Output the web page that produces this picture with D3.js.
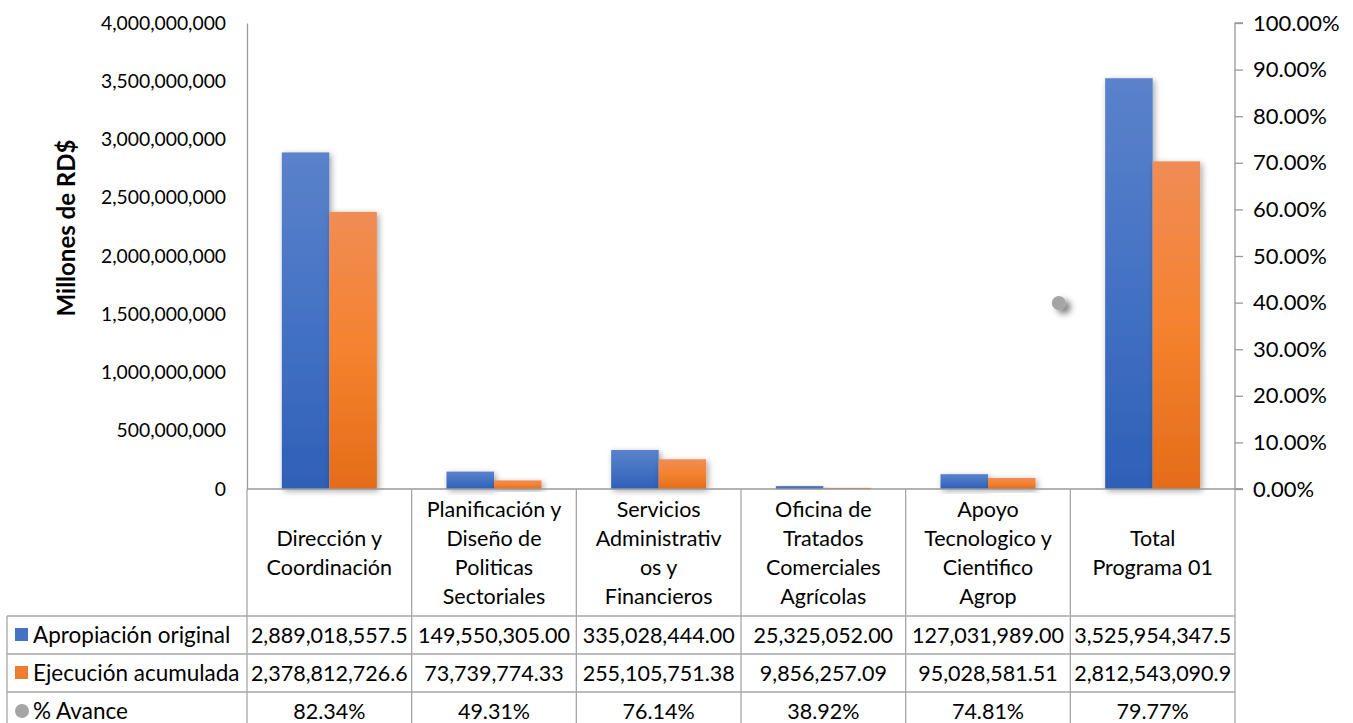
<!DOCTYPE html>
<html><head><meta charset="utf-8">
<script src="https://cdn.jsdelivr.net/npm/d3@7"></script>
<style>
html,body{margin:0;padding:0;background:#fff;}
svg{display:block;font-family:Lato,"Noto Sans",sans-serif;}
</style></head>
<body><svg id="c" width="1353" height="723"></svg>
<script>
const categories = [
  ["Dirección y","Coordinación"],
  ["Planificación y","Diseño de","Politicas","Sectoriales"],
  ["Servicios","Administrativ","os y","Financieros"],
  ["Oficina de","Tratados","Comerciales","Agrícolas"],
  ["Apoyo","Tecnologico y","Cientifico","Agrop"],
  ["Total","Programa 01"]
];
const apropiacion = [2889018557.5, 149550305.00, 335028444.00, 25325052.00, 127031989.00, 3525954347.5];
const ejecucion   = [2378812726.6, 73739774.33, 255105751.38, 9856257.09, 95028581.51, 2812543090.9];
const avance      = [0.8234, 0.4931, 0.7614, 0.3892, 0.7481, 0.7977];
const apropLabels = ["2,889,018,557.5","149,550,305.00","335,028,444.00","25,325,052.00","127,031,989.00","3,525,954,347.5"];
const ejecLabels  = ["2,378,812,726.6","73,739,774.33","255,105,751.38","9,856,257.09","95,028,581.51","2,812,543,090.9"];
const avanceLabels= ["82.34%","49.31%","76.14%","38.92%","74.81%","79.77%"];
const seriesNames = ["Apropiación original","Ejecución acumulada","% Avance"];
const leftTicks  = [0,500000000,1000000000,1500000000,2000000000,2500000000,3000000000,3500000000,4000000000];
const rightTicks = [0,0.1,0.2,0.3,0.4,0.5,0.6,0.7,0.8,0.9,1.0];
// stray marker of the % Avance series visible in the plot
const strayMarker = {value: 0.399, cat: 4, frac: 0.93};

const svg = d3.select("#c");
const L = 247, R = 1235, T = 23, B = 489;
const keys = categories.map((c,i)=>"c"+i);
const x = d3.scaleBand().domain(keys).range([L,R]).padding(0);
const xs = d3.scaleBand().domain([0,1]).range([0,x.bandwidth()]).paddingInner(0).paddingOuter(0.733);
const y = d3.scaleLinear().domain([0,4000000000]).range([B,T]);
const y2 = d3.scaleLinear().domain([0,1]).range([B,T]);

const defs = svg.append("defs");
function grad(id, stops){
  const g = defs.append("linearGradient").attr("id",id).attr("x1",0).attr("y1",0).attr("x2",0).attr("y2",1);
  stops.forEach(s=>g.append("stop").attr("offset",s[0]).attr("stop-color",s[1]));
}
grad("gBlue",[[0,"#5B82CB"],[0.5,"#4472C4"],[1,"#2E60B8"]]);
grad("gOrange",[[0,"#F08C55"],[0.5,"#F5822F"],[1,"#E46C19"]]);
const f = defs.append("filter").attr("id","sh").attr("x","-30%").attr("y","-30%").attr("width","160%").attr("height","160%");
f.append("feDropShadow").attr("dx",2).attr("dy",2).attr("stdDeviation",3).attr("flood-color","#000").attr("flood-opacity",0.35);
const f2 = defs.append("filter").attr("id","sh2").attr("x","-100%").attr("y","-100%").attr("width","300%").attr("height","300%");
f2.append("feDropShadow").attr("dx",5).attr("dy",4).attr("stdDeviation",3).attr("flood-color","#000").attr("flood-opacity",0.5);

// left axis
const ya = d3.axisLeft(y).tickValues(leftTicks).tickSize(0).tickPadding(21).tickFormat(d3.format(","));
const gy = svg.append("g").attr("transform",`translate(${L},0)`).call(ya);
gy.select(".domain").attr("stroke","#999").attr("stroke-width",1.3);
gy.selectAll("text").attr("font-size",19.3).attr("fill","#000").attr("font-family","Lato");

// right axis
const ya2 = d3.axisRight(y2).tickValues(rightTicks).tickSize(8).tickPadding(10).tickFormat(d3.format(".2%"));
const gy2 = svg.append("g").attr("transform",`translate(${R},0)`).call(ya2);
gy2.select(".domain").attr("stroke","#999").attr("stroke-width",1.3).attr("d",`M8,${T}H0V${B}H8`);
gy2.selectAll("line").attr("stroke","#999").attr("stroke-width",1.3);
gy2.selectAll("text").attr("font-size",22).attr("fill","#000").attr("font-family","Lato");

// y title
svg.append("text").attr("transform",`translate(67,${(T+B)/2-28}) rotate(-90)`)
  .attr("text-anchor","middle").attr("dy","0.35em").attr("font-weight","bold").attr("font-size",24).attr("fill","#000")
  .text("Millones de RD$");

// bars
const gb = svg.append("g");
[apropiacion, ejecucion].forEach((vals,si)=>{
  gb.selectAll(null).data(vals).enter().append("rect")
    .attr("x",(d,i)=>x(keys[i])+xs(si))
    .attr("y",d=>y(d))
    .attr("width",xs.bandwidth())
    .attr("height",d=>B-y(d))
    .attr("fill",si===0?"url(#gBlue)":"url(#gOrange)")
    .attr("filter","url(#sh)");
});

// stray marker
svg.append("circle")
  .attr("cx", x(keys[strayMarker.cat]) + x.bandwidth()*strayMarker.frac)
  .attr("cy", y2(strayMarker.value))
  .attr("r",7).attr("fill","#A5A5A5").attr("filter","url(#sh2)");

// bottom axis line
svg.append("line").attr("x1",L).attr("x2",R+8).attr("y1",B).attr("y2",B).attr("stroke","#999").attr("stroke-width",1.3);

// data table
const rowH = 38, hdrB = 616, tableL = 7;
const rowsY = [hdrB, hdrB+rowH, hdrB+2*rowH, hdrB+3*rowH];
const tg = svg.append("g");
const gridC = "#A6A6A6";
x.domain().concat(["end"]).forEach((k,i)=>{
  const xx = k==="end" ? R : x(k);
  tg.append("line").attr("x1",xx).attr("x2",xx).attr("y1",B).attr("y2",rowsY[3]).attr("stroke",gridC).attr("stroke-width",1.3);
});
tg.append("line").attr("x1",tableL).attr("x2",tableL).attr("y1",hdrB).attr("y2",rowsY[3]).attr("stroke",gridC).attr("stroke-width",1.3);
rowsY.forEach(yy=>{
  tg.append("line").attr("x1",tableL).attr("x2",R).attr("y1",yy).attr("y2",yy).attr("stroke",gridC).attr("stroke-width",1.3);
});
// category labels
const lh = 29;
categories.forEach((lines,i)=>{
  const cx = x(keys[i]) + x.bandwidth()/2;
  const cy = (B+hdrB)/2;
  const t = tg.append("text").attr("text-anchor","middle").attr("font-size",21.5).attr("fill","#000");
  lines.forEach((ln,j)=>{
    t.append("tspan").attr("x",cx).attr("y", cy + (j-(lines.length-1)/2)*lh).attr("dy","0.35em").text(ln);
  });
});
// rows
const rowLabels = [apropLabels, ejecLabels, avanceLabels];
rowLabels.forEach((labs,r)=>{
  const cy = rowsY[r] + rowH/2;
  labs.forEach((lab,i)=>{
    tg.append("text").attr("x",x(keys[i])+x.bandwidth()/2).attr("y",cy).attr("dy","0.35em")
      .attr("text-anchor","middle").attr("font-size",21.5).attr("fill","#000").text(lab);
  });
  if(r===0) tg.append("rect").attr("x",15).attr("y",cy-7).attr("width",13).attr("height",13).attr("fill","#4472C4");
  if(r===1) tg.append("rect").attr("x",15).attr("y",cy-7).attr("width",13).attr("height",13).attr("fill","#ED7D31");
  if(r===2) tg.append("circle").attr("cx",22).attr("cy",cy).attr("r",7).attr("fill","#A5A5A5");
  tg.append("text").attr("x",33).attr("y",cy).attr("dy","0.35em").attr("font-size",22.5).attr("fill","#000").text(seriesNames[r]);
});
</script></body></html>
